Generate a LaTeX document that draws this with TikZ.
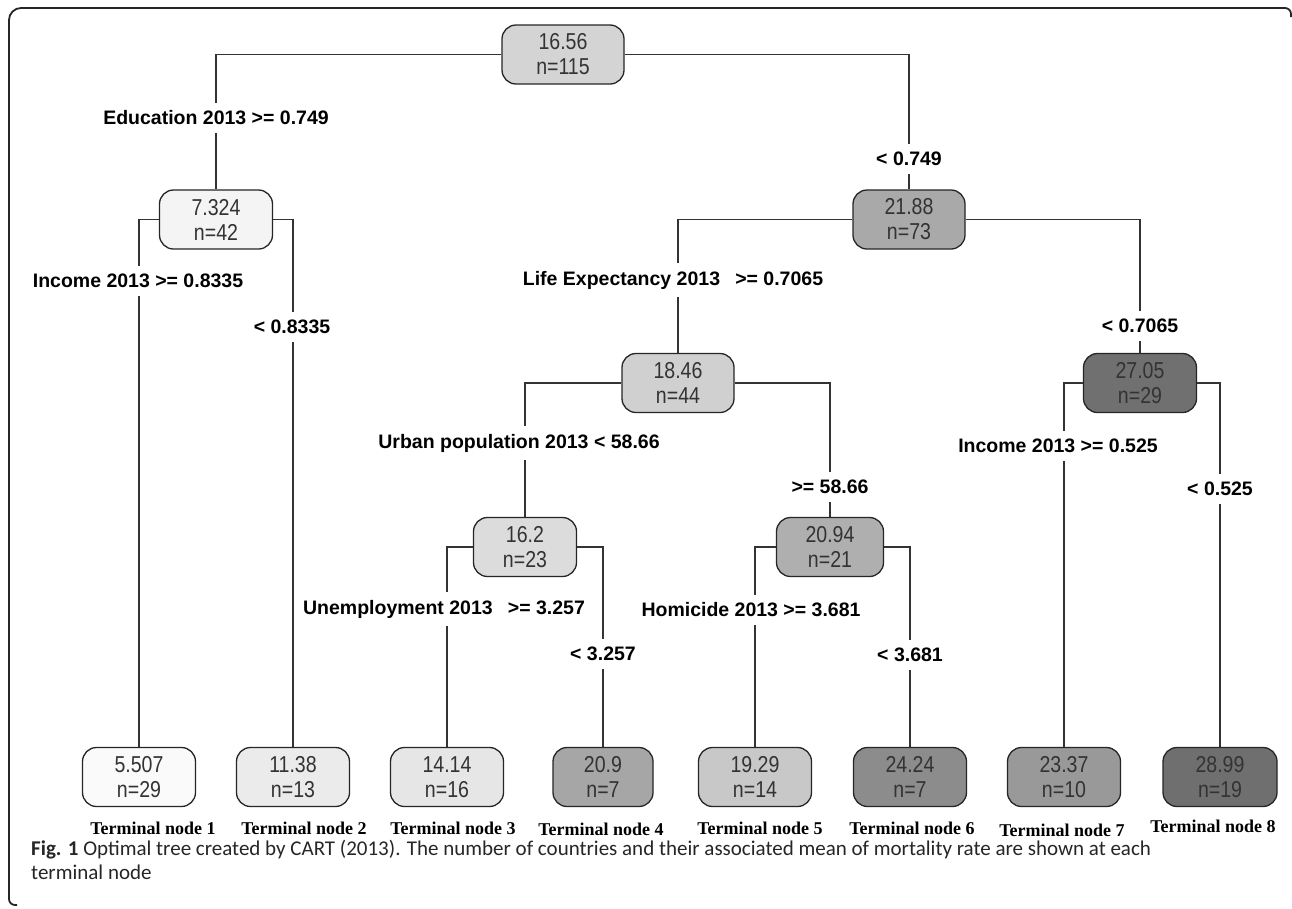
\documentclass[tikz,border=0pt]{standalone}
\usepackage{fontspec}
\setmainfont{Liberation Sans}
\newfontfamily\nodefont[FakeStretch=0.85]{Liberation Sans}
\newfontfamily\labfont{Liberation Sans}
\newfontfamily\termfont{Liberation Serif}
\newfontfamily\capfont{Carlito}
\definecolor{cR}{HTML}{D4D4D4}
\definecolor{cA}{HTML}{F4F4F4}
\definecolor{cB}{HTML}{A9A9A9}
\definecolor{cC}{HTML}{D0D0D0}
\definecolor{cD}{HTML}{707070}
\definecolor{cE}{HTML}{DCDCDC}
\definecolor{cF}{HTML}{AFAFAF}
\definecolor{t1c}{HTML}{FAFAFA}
\definecolor{t2c}{HTML}{EBEBEB}
\definecolor{t3c}{HTML}{E6E6E6}
\definecolor{t4c}{HTML}{A6A6A6}
\definecolor{t5c}{HTML}{C8C8C8}
\definecolor{t6c}{HTML}{8C8C8C}
\definecolor{t7c}{HTML}{999999}
\definecolor{t8c}{HTML}{6F6F6F}
\begin{document}
\begin{tikzpicture}[x=1pt,y=-1pt,
  tn/.style={draw=black!85, line width=1.3pt, rounded corners=14pt,
    minimum width=112pt, minimum height=59pt, align=center, inner sep=0pt,
    font=\nodefont\fontsize{23}{25}\selectfont, text=black!80},
  conn/.style={draw=black!80, line width=1.2pt},
  lab/.style={fill=white, inner xsep=2pt, inner ysep=8pt,
    font=\labfont\bfseries\fontsize{19.5}{22}\selectfont},
  tlab/.style={font=\termfont\bfseries\fontsize{18}{20}\selectfont},
  captext/.style={anchor=base west, inner sep=0pt, font=\capfont\fontsize{21}{24}\selectfont, text=black!85},
  frame/.style={draw=black!85, line width=1.8pt}]
\useasboundingbox (0,0) rectangle (1292,908);
\fill[white] (0,0) rectangle (1292,908);
% frame
\draw[frame, rounded corners=6pt] (1291,17) -- (1291,8) [rounded corners=12pt] -- (9,8) [rounded corners=6pt] -- (9,905) -- (17,905);
% tree nodes
\node[tn, fill=cR, minimum width=122pt] (root) at (563,54.5) {16.56\\n=115};
\node[tn, fill=cA, minimum width=113pt] (n7) at (216,219.5) {7.324\\n=42};
\node[tn, fill=cB] (n21) at (909,219.5) {21.88\\n=73};
\node[tn, fill=cC] (n18) at (678,383) {18.46\\n=44};
\node[tn, fill=cD, minimum width=113pt] (n27) at (1140,383) {27.05\\n=29};
\node[tn, fill=cE, minimum width=103pt] (n16) at (525,547) {16.2\\n=23};
\node[tn, fill=cF, minimum width=107pt] (n20) at (830,547) {20.94\\n=21};
\node[tn, fill=t1c, minimum width=113pt] (t1) at (139,777) {5.507\\n=29};
\node[tn, fill=t2c, minimum width=113pt] (t2) at (293,777) {11.38\\n=13};
\node[tn, fill=t3c, minimum width=113pt] (t3) at (447,777) {14.14\\n=16};
\node[tn, fill=t4c, minimum width=100pt] (t4) at (603,777) {20.9\\n=7};
\node[tn, fill=t5c, minimum width=113pt] (t5) at (755,777) {19.29\\n=14};
\node[tn, fill=t6c, minimum width=113pt] (t6) at (910,777) {24.24\\n=7};
\node[tn, fill=t7c, minimum width=113pt] (t7) at (1064,777) {23.37\\n=10};
\node[tn, fill=t8c, minimum width=114pt] (t8) at (1220,777) {28.99\\n=19};
% connectors
\draw[conn] (root.west) -| (n7.north);
\draw[conn] (root.east) -| (n21.north);
\draw[conn] (n7.west) -| (t1.north);
\draw[conn] (n7.east) -| (t2.north);
\draw[conn] (n21.west) -| (n18.north);
\draw[conn] (n21.east) -| (n27.north);
\draw[conn] (n18.west) -| (n16.north);
\draw[conn] (n18.east) -| (n20.north);
\draw[conn] (n16.west) -| (t3.north);
\draw[conn] (n16.east) -| (t4.north);
\draw[conn] (n20.west) -| (t5.north);
\draw[conn] (n20.east) -| (t6.north);
\draw[conn] (n27.west) -| (t7.north);
\draw[conn] (n27.east) -| (t8.north);
% split labels
\node[lab] (l1) at (216,118) {Education 2013 >= 0.749};
\node[lab] (l2) at (909,159) {< 0.749};
\node[lab] (l3) at (138,281) {Income 2013 >= 0.8335};
\node[lab] (l4) at (292,327) {< 0.8335};
\node[lab] (l5) at (673,280) {Life Expectancy 2013\hspace{0.5em} >= 0.7065};
\node[lab] (l6) at (1140,326) {< 0.7065};
\node[lab] (l7) at (519,443) {Urban population 2013 < 58.66};
\node[lab] (l8) at (830,487) {>= 58.66};
\node[lab] (l9) at (1058,446) {Income 2013 >= 0.525};
\node[lab] (l10) at (1220,489) {< 0.525};
\node[lab] (l11) at (444,609) {Unemployment 2013\hspace{0.5em} >= 3.257};
\node[lab] (l12) at (603,654) {< 3.257};
\node[lab] (l13) at (751,610) {Homicide 2013 >= 3.681};
\node[lab] (l14) at (910,655) {< 3.681};
% terminal labels
\node[tlab] (tl1) at (153,828) {Terminal node 1};
\node[tlab] (tl2) at (304,828) {Terminal node 2};
\node[tlab] (tl3) at (453,828) {Terminal node 3};
\node[tlab] (tl4) at (601,829) {Terminal node 4};
\node[tlab] (tl5) at (760,828) {Terminal node 5};
\node[tlab] (tl6) at (912,828) {Terminal node 6};
\node[tlab] (tl7) at (1062,830) {Terminal node 7};
\node[tlab] (tl8) at (1213,826) {Terminal node 8};
% caption
\node[captext] (cap1) at (31,855) {\textbf{Fig. 1} Optimal tree created by CART (2013). The number of countries and their associated mean of mortality rate are shown at each};
\node[captext] (cap2) at (31,879) {terminal node};
\end{tikzpicture}
\end{document}
